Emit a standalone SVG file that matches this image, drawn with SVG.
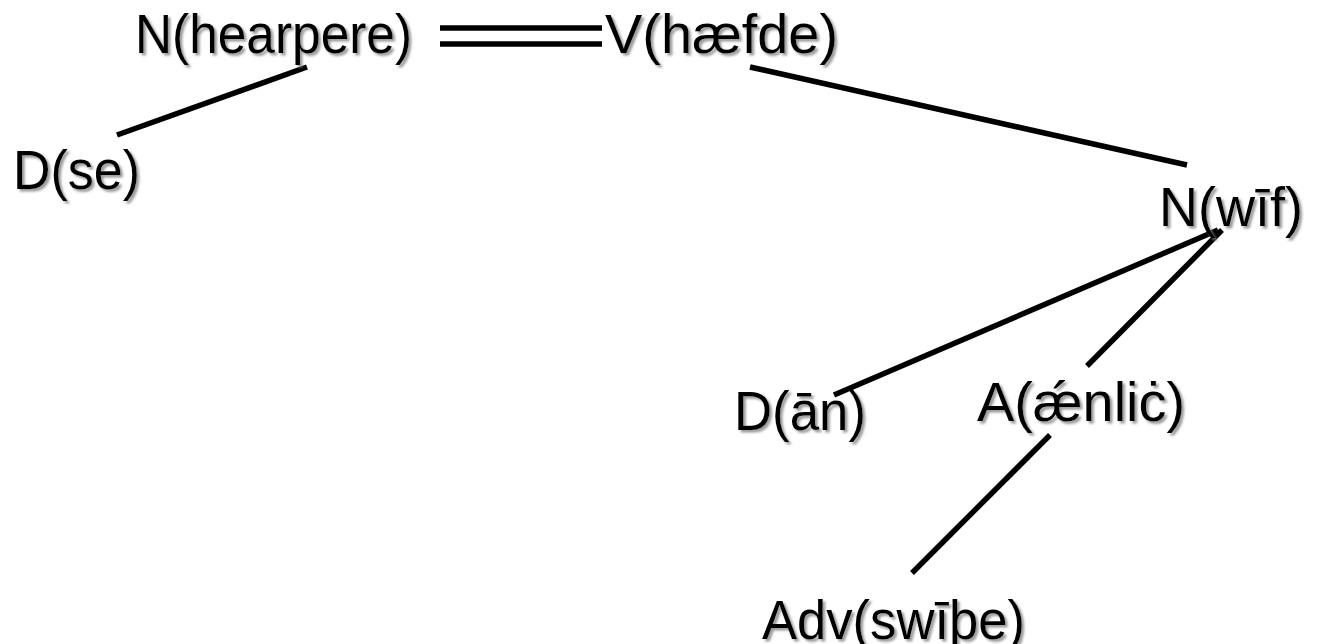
<svg xmlns="http://www.w3.org/2000/svg" width="1318" height="644" viewBox="0 0 1318 644">
<defs>
<filter id="sh" x="-10%" y="-20%" width="130%" height="150%">
<feDropShadow dx="2.5" dy="2.5" stdDeviation="0.8" flood-color="#808080" flood-opacity="0.8"/>
</filter>
<style>
text{font-family:"Liberation Sans",Arial,sans-serif;font-size:56px;fill:#000;filter:url(#sh)}
.c line{stroke:#000;stroke-width:5.5;stroke-linecap:butt}
</style>
</defs>
<rect width="1318" height="644" fill="#fff"/>
<g class="c" id="connectors">
<line x1="440" y1="28" x2="602" y2="28"/>
<line x1="440" y1="44" x2="602" y2="44"/>
<line x1="307" y1="67" x2="117" y2="135"/>
<line x1="750" y1="67" x2="1187" y2="165"/>
<line x1="1218" y1="230" x2="834" y2="395"/>
<line x1="1222" y1="230" x2="1087" y2="366"/>
<line x1="1050" y1="435" x2="912" y2="573"/>
</g>
<g id="n-hearpere"><text x="135" y="53" textLength="277" lengthAdjust="spacingAndGlyphs">N(hearpere)</text></g>
<g id="v-haefde"><text x="605" y="53" textLength="233" lengthAdjust="spacingAndGlyphs">V(hæfde)</text></g>
<g id="d-se"><text x="13" y="189" textLength="127" lengthAdjust="spacingAndGlyphs">D(se)</text></g>
<g id="n-wif"><text x="1159" y="226" textLength="144" lengthAdjust="spacingAndGlyphs">N(wīf)</text></g>
<g id="d-an"><text x="734" y="430" textLength="132" lengthAdjust="spacingAndGlyphs">D(ān)</text></g>
<g id="a-aenlic"><text x="977" y="421" textLength="208" lengthAdjust="spacingAndGlyphs">A(ǽnliċ)</text></g>
<g id="adv-swithe"><text x="762" y="639" textLength="263" lengthAdjust="spacingAndGlyphs">Adv(swīþe)</text></g>
</svg>
